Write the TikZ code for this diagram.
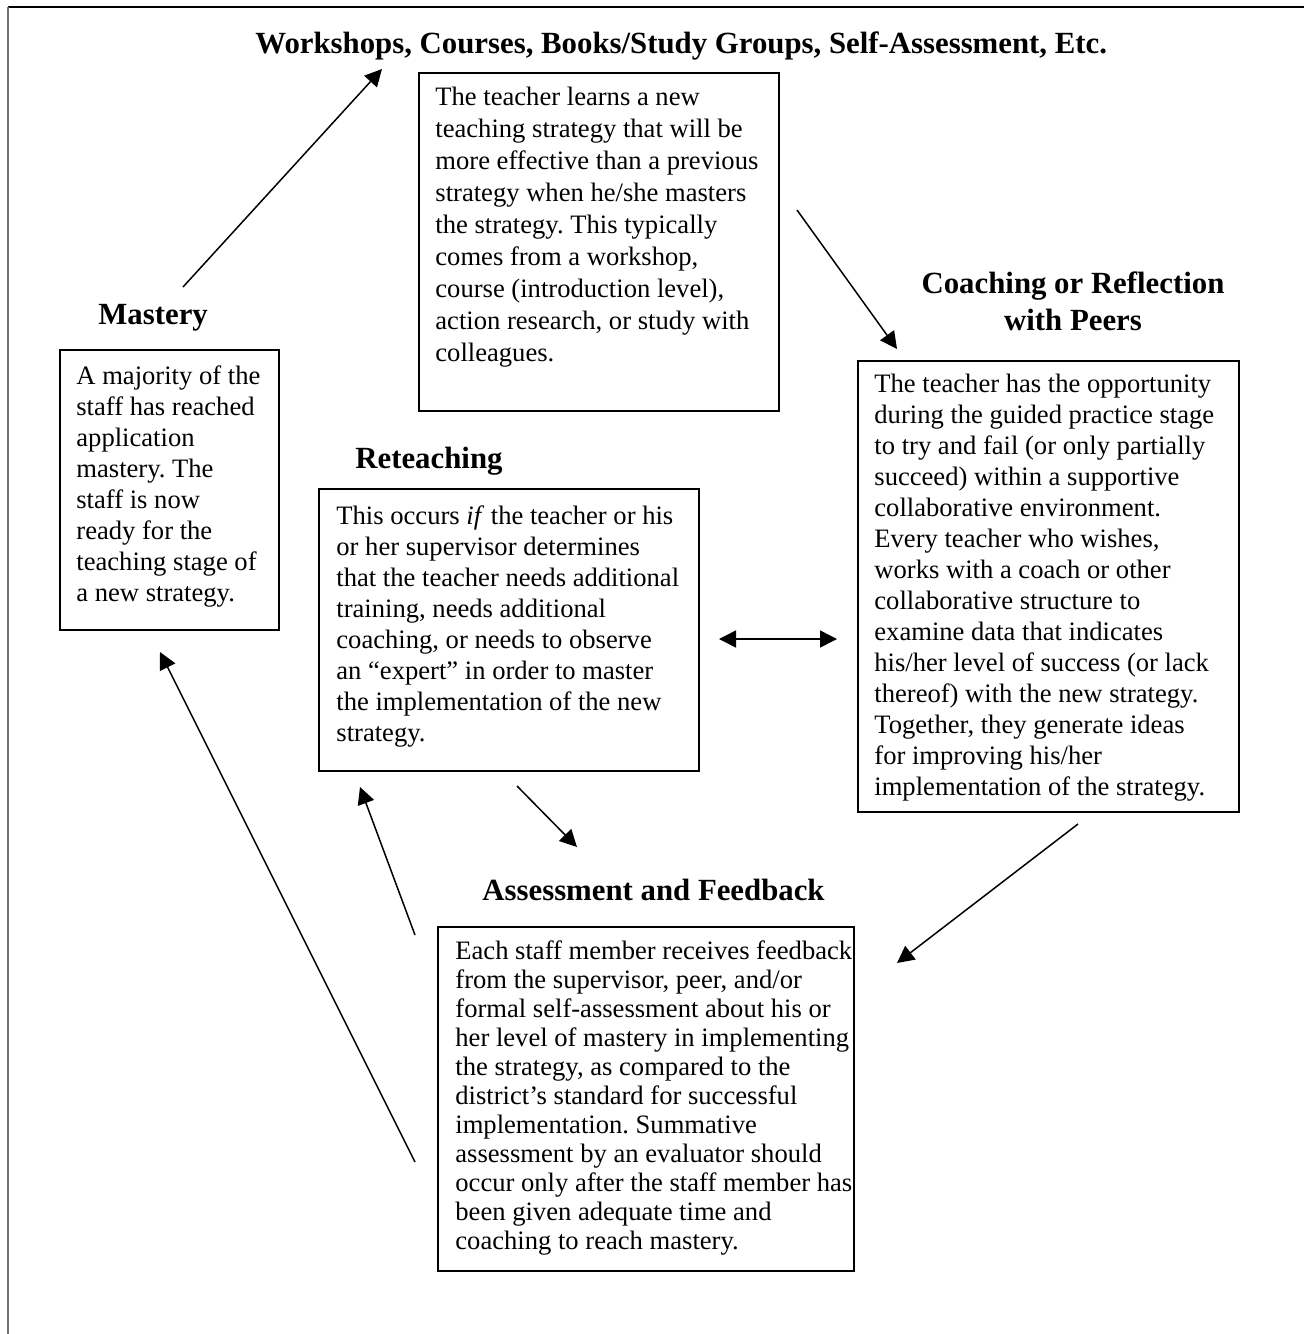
\documentclass[tikz,border=0pt]{standalone}
\usepackage{fontspec}
\setmainfont{Liberation Serif}
\usetikzlibrary{arrows.meta}
\frenchspacing

\begin{document}
\begin{tikzpicture}[x=0.5pt,y=-0.5pt,
  frame/.style={draw, line width=0.8pt, anchor=north west, inner sep=0pt},
  body/.style={anchor=west, inner sep=0pt, align=left,
    font=\fontsize{13.3}{#1}\selectfont},
  body/.default=15.5pt,
  heading/.style={inner sep=0pt, font=\fontsize{15.4}{18.5}\selectfont\bfseries},
  link/.style={line width=0.75pt, -{Triangle[length=8.5pt,width=8.5pt]}},
  twoway/.style={line width=0.75pt, {Triangle[length=8.5pt,width=8.5pt]}-{Triangle[length=8.5pt,width=8.5pt]}},
]
\useasboundingbox (0,0) rectangle (1304,1334);

% page rules
\draw[line width=0.75pt] (8,7) -- (1304,7);
\draw[line width=1pt, black!55] (8,7) -- (8,1334);

% headings
\node[heading, anchor=base west] (hwork) at (255,53)
  {Workshops, Courses, Books/Study Groups, Self-Assessment, Etc.};
\node[heading, anchor=base west] (hmast) at (98,324) {Mastery};
\node[heading, anchor=base west] (hret) at (355,468) {Reteaching};
\node[heading, anchor=base, align=center] (hcoach) at (1073,330)
  {Coaching or Reflection\\with Peers};
\node[heading, anchor=base west] (hass) at (482,900) {Assessment and Feedback};

% boxes
\node[frame, minimum width=180pt, minimum height=169pt] (learn) at (418,72) {};
\node[frame, minimum width=109.5pt, minimum height=140pt] (mast) at (59,349) {};
\node[frame, minimum width=190pt, minimum height=141pt] (ret) at (318,488) {};
\node[frame, minimum width=190.5pt, minimum height=225.5pt] (coach) at (857,360) {};
\node[frame, minimum width=208pt, minimum height=172pt] (ass) at (437,926) {};

% box texts
\node[body=16pt] (learntxt) at (435,227)
  {The teacher learns a new\\
   teaching strategy that will be\\
   more effective than a previous\\
   strategy when he/she masters\\
   the strategy. This typically\\
   comes from a workshop,\\
   course (introduction level),\\
   action research, or study with\\
   colleagues.};
\node[body] (masttxt) at (76,486)
  {A majority of the\\
   staff has reached\\
   application\\
   mastery. The\\
   staff is now\\
   ready for the\\
   teaching stage of\\
   a new strategy.};
\node[body] (rettxt) at (336,626)
  {This occurs \textit{if} the teacher or his\\
   or her supervisor determines\\
   that the teacher needs additional\\
   training, needs additional\\
   coaching, or needs to observe\\
   an “expert” in order to master\\
   the implementation of the new\\
   strategy.};
\node[body] (coachtxt) at (874,588)
  {The teacher has the opportunity\\
   during the guided practice stage\\
   to try and fail (or only partially\\
   succeed) within a supportive\\
   collaborative environment.\\
   Every teacher who wishes,\\
   works with a coach or other\\
   collaborative structure to\\
   examine data that indicates\\
   his/her level of success (or lack\\
   thereof) with the new strategy.\\
   Together, they generate ideas\\
   for improving his/her\\
   implementation of the strategy.};
\node[body=14.5pt] (asstxt) at (455,1098)
  {Each staff member receives feedback\\
   from the supervisor, peer, and/or\\
   formal self-assessment about his or\\
   her level of mastery in implementing\\
   the strategy, as compared to the\\
   district’s standard for successful\\
   implementation. Summative\\
   assessment by an evaluator should\\
   occur only after the staff member has\\
   been given adequate time and\\
   coaching to reach mastery.};

% connector ends
\coordinate (m2w-s) at (183,287);  \coordinate (m2w-e) at (382,69);
\coordinate (l2c-s) at (797,210);  \coordinate (l2c-e) at (897,349);
\coordinate (rc-a)  at (719,639);  \coordinate (rc-b)  at (837,639);
\coordinate (c2a-s) at (1078,824); \coordinate (c2a-e) at (897,963);
\coordinate (r2a-s) at (517,786);  \coordinate (r2a-e) at (577,847);
\coordinate (a2r-s) at (415,935);  \coordinate (a2r-e) at (360,787);
\coordinate (a2m-s) at (415,1162); \coordinate (a2m-e) at (160,652);

% connectors
\draw[link] (m2w-s) -- (m2w-e);
\draw[link] (l2c-s) -- (l2c-e);
\draw[twoway] (rc-a) -- (rc-b);
\draw[link] (c2a-s) -- (c2a-e);
\draw[link] (r2a-s) -- (r2a-e);
\draw[link] (a2r-s) -- (a2r-e);
\draw[link] (a2m-s) -- (a2m-e);
\end{tikzpicture}
\end{document}
